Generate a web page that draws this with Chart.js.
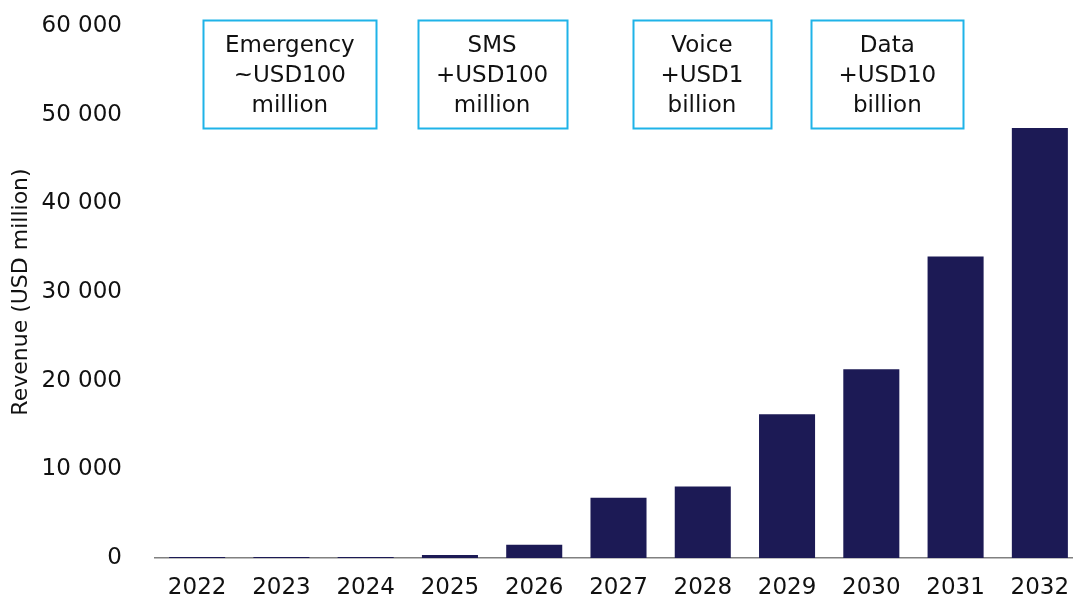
<!DOCTYPE html>
<html>
<head>
<meta charset="utf-8">
<script src="https://cdn.jsdelivr.net/npm/chart.js@4/dist/chart.umd.min.js"></script>
<style>
  html, body { margin: 0; padding: 0; background: #fff; overflow: hidden; }
  #wrap { width: 1082px; height: 600px; position: relative; }
</style>
</head>
<body>
<div id="wrap"><canvas id="chart"></canvas></div>
<script>
// Datos
const years = ['2022', '2023', '2024', '2025', '2026', '2027', '2028', '2029', '2030', '2031', '2032'];
const revenue = [120, 120, 100, 350, 1500, 6800, 8050, 16200, 21300, 34000, 48500];
const yTicks = [0, 10000, 20000, 30000, 40000, 50000, 60000];

// Cuadros de anotación (posición en índice de categoría)
const noteLines = [
  ['Emergency', '~USD100', 'million'],
  ['SMS', '+USD100', 'million'],
  ['Voice', '+USD1', 'billion'],
  ['Data', '+USD10', 'billion'],
];
const noteCenters = [1.1, 3.5, 5.99, 8.19];
const noteWidths = [173, 149, 138, 152];

const FONT = "'DejaVu Sans', sans-serif";
const BAR = '#1c1a55';
const BOX = '#1fb3e8';

const formatThousands = v => String(v).replace(/\B(?=(\d{3})+(?!\d))/g, ' ');

const notesPlugin = {
  id: 'notes',
  afterDraw(chart) {
    const { ctx, chartArea, scales: { x } } = chart;
    const top = chartArea.top - 6;
    const h = 108;
    ctx.save();
    noteLines.forEach((lines, i) => {
      const cx = x.getPixelForValue(noteCenters[i]);
      const w = noteWidths[i];
      ctx.strokeStyle = BOX;
      ctx.lineWidth = 2;
      ctx.strokeRect(Math.round(cx - w / 2) + 0.5, Math.round(top) + 0.5, w, h);
      ctx.fillStyle = '#111';
      ctx.font = `23px ${FONT}`;
      ctx.textAlign = 'center';
      ctx.textBaseline = 'middle';
      lines.forEach((t, j) => ctx.fillText(t, cx, top + 26 + j * 30));
    });
    ctx.restore();
  },
};

new Chart(document.getElementById('chart').getContext('2d'), {
  type: 'bar',
  data: {
    labels: years,
    datasets: [{
      data: revenue,
      backgroundColor: BAR,
      borderWidth: 0,
      categoryPercentage: 1,
      barPercentage: 0.665,
    }],
  },
  options: {
    responsive: true,
    maintainAspectRatio: false,
    animation: false,
    layout: { padding: { top: 26, right: 0, bottom: 0, left: 0 } },
    plugins: {
      legend: { display: false },
      tooltip: { enabled: false },
    },
    scales: {
      x: {
        afterFit: scale => { scale.height = 42; },
        grid: { display: false },
        border: { display: true, color: '#808080', width: 1.5 },
        ticks: { color: '#111', padding: 8, font: { family: FONT, size: 23 } },
      },
      y: {
        min: 0,
        max: 60000,
        afterBuildTicks: scale => { scale.ticks = yTicks.map(v => ({ value: v })); },
        afterFit: scale => {
          scale.width = 155;
          scale.paddingTop = 0;
          scale.paddingBottom = 0;
        },
        grid: { display: false },
        border: { display: false },
        ticks: {
          color: '#111',
          padding: 25,
          font: { family: FONT, size: 23 },
          callback: v => formatThousands(v),
        },
        title: {
          display: true,
          text: 'Revenue (USD million)',
          color: '#111',
          padding: { top: 8, bottom: 0 },
          font: { family: FONT, size: 22 },
        },
      },
    },
  },
  plugins: [notesPlugin],
});
</script>
</body>
</html>
